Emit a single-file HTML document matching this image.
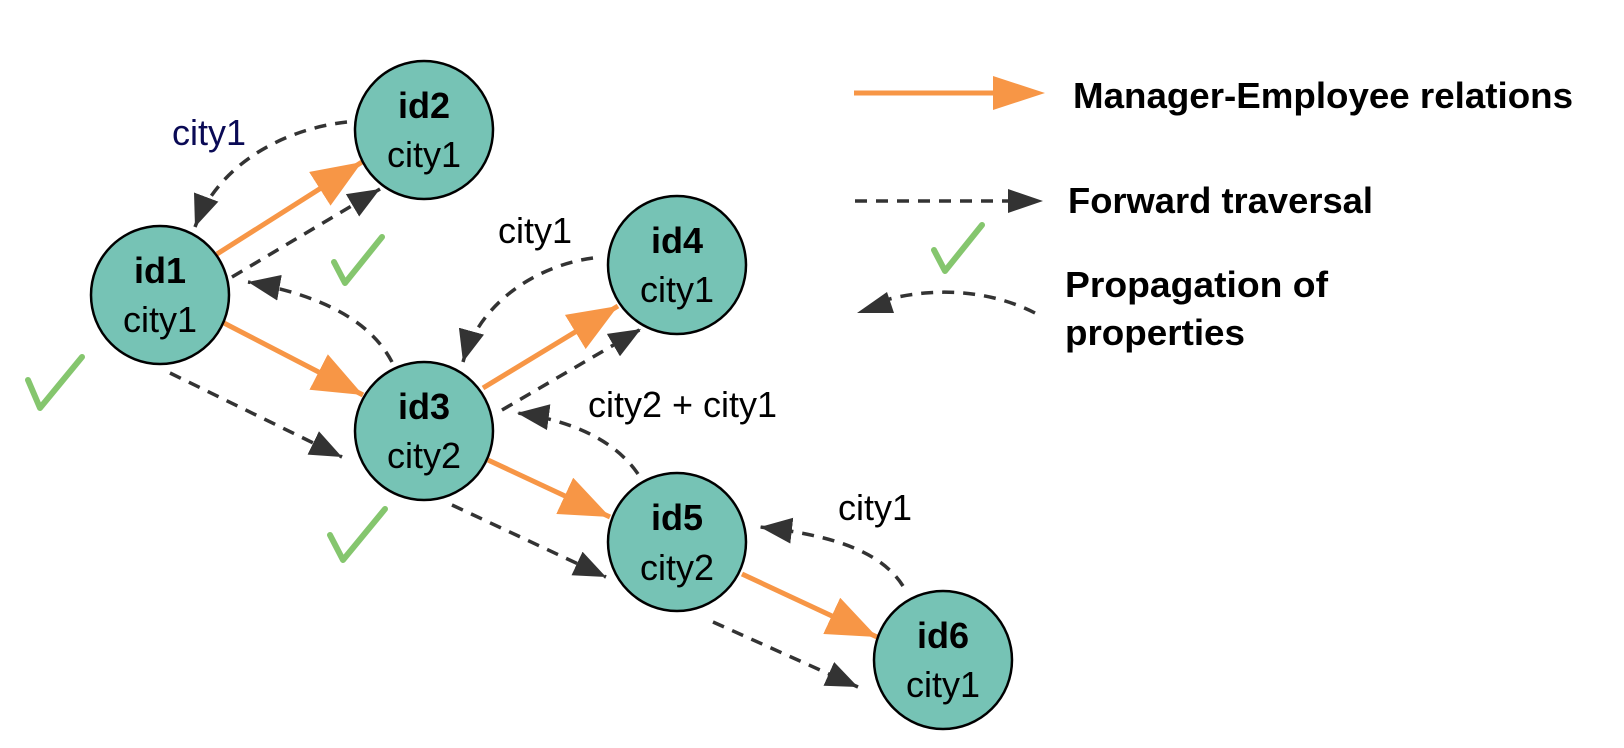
<!DOCTYPE html>
<html><head><meta charset="utf-8"><style>
html,body{margin:0;padding:0;background:#fff;}
svg{display:block;}
.n{fill:#76C3B5;stroke:#000;stroke-width:2.5;}
.idt{font-family:"Liberation Sans",sans-serif;font-weight:bold;font-size:36px;text-anchor:middle;fill:#000;}
.ct{font-family:"Liberation Sans",sans-serif;font-size:36px;text-anchor:middle;fill:#000;}
.lb{font-family:"Liberation Sans",sans-serif;font-size:36px;fill:#000;}
.lg{font-family:"Liberation Sans",sans-serif;font-weight:bold;font-size:36px;fill:#000;}
.o{stroke:#F79646;stroke-width:5;fill:none;marker-end:url(#mo);}
.d{stroke:#333;stroke-width:3.5;stroke-dasharray:12 9;fill:none;marker-end:url(#md);}
.ck{stroke:#85C66E;stroke-width:6;fill:none;stroke-linecap:round;stroke-linejoin:round;}
</style></head><body>
<svg width="1624" height="748" viewBox="0 0 1624 748" xmlns="http://www.w3.org/2000/svg">
<defs>
<marker id="mo" markerUnits="userSpaceOnUse" markerWidth="52" markerHeight="40" refX="50" refY="20" orient="auto"><path d="M0,0 L50,20 L0,40 z" fill="#F79646"/></marker>
<marker id="md" markerUnits="userSpaceOnUse" markerWidth="34" markerHeight="26" refX="32" refY="13" orient="auto"><path d="M0,0 L32,13 L0,26 z" fill="#333"/></marker>
</defs>

<!-- edges -->
<line class="o" x1="217" y1="254" x2="362" y2="162"/>
<line class="d" x1="232" y1="277" x2="380" y2="189"/>
<path class="d" d="M347,122 C290,128 220,160 195,227"/>
<line class="o" x1="222" y1="322" x2="363" y2="395"/>
<line class="d" x1="170" y1="373" x2="342" y2="457"/>
<path class="d" d="M392,362 C370,320 320,295 248,282"/>
<line class="o" x1="483" y1="388" x2="618" y2="306"/>
<line class="d" x1="502" y1="410" x2="641" y2="329"/>
<path class="d" d="M593,258 C540,265 480,300 463,362"/>
<line class="o" x1="488" y1="460" x2="610" y2="517"/>
<line class="d" x1="452" y1="505" x2="606" y2="577"/>
<path class="d" d="M638,474 C615,440 570,420 517,413"/>
<line class="o" x1="742" y1="574" x2="877" y2="637"/>
<line class="d" x1="713" y1="622" x2="858" y2="687"/>
<path class="d" d="M903,586 C880,550 830,535 760,527"/>

<!-- nodes -->
<circle class="n" cx="160" cy="295" r="69"/>
<text class="idt" x="160" y="283">id1</text><text class="ct" x="160" y="332">city1</text>
<circle class="n" cx="424" cy="130" r="69"/>
<text class="idt" x="424" y="118">id2</text><text class="ct" x="424" y="167">city1</text>
<circle class="n" cx="424" cy="431" r="69"/>
<text class="idt" x="424" y="419">id3</text><text class="ct" x="424" y="468">city2</text>
<circle class="n" cx="677" cy="265" r="69"/>
<text class="idt" x="677" y="253">id4</text><text class="ct" x="677" y="302">city1</text>
<circle class="n" cx="677" cy="542" r="69"/>
<text class="idt" x="677" y="530">id5</text><text class="ct" x="677" y="580">city2</text>
<circle class="n" cx="943" cy="660" r="69"/>
<text class="idt" x="943" y="648">id6</text><text class="ct" x="943" y="697">city1</text>

<!-- edge labels -->
<text class="lb" x="172" y="145" fill="#0a0a55" style="fill:#0a0a55">city1</text>
<text class="lb" x="498" y="243">city1</text>
<text class="lb" x="588" y="417">city2 + city1</text>
<text class="lb" x="838" y="520">city1</text>

<!-- checks -->
<path class="ck" d="M334,262 L345,283 L382,237"/>
<path class="ck" d="M28,380 L40,408 L82,357"/>
<path class="ck" d="M330,535 L343,560 L385,509"/>
<path class="ck" d="M934,250 L945,271 L982,225"/>

<!-- legend -->
<line x1="854" y1="93" x2="995" y2="93" stroke="#F79646" stroke-width="5"/>
<path d="M993,76 L1045,93 L993,110 z" fill="#F79646"/>
<text class="lg" x="1073" y="108" textLength="500" lengthAdjust="spacingAndGlyphs">Manager-Employee relations</text>
<line x1="855" y1="201" x2="1008" y2="201" stroke="#333" stroke-width="3.5" stroke-dasharray="12 9"/>
<path d="M1008,189 L1043,201 L1008,213 z" fill="#333"/>
<text class="lg" x="1068" y="213" textLength="305" lengthAdjust="spacingAndGlyphs">Forward traversal</text>
<path d="M1035,313 C1000,295 960,290 925,293 C905,295 890,298 878,303" stroke="#333" stroke-width="3.5" stroke-dasharray="12 9" fill="none"/>
<path d="M857,313 L887,292 L894,313 z" fill="#333"/>
<text class="lg" x="1065" y="297" textLength="263" lengthAdjust="spacingAndGlyphs">Propagation of</text>
<text class="lg" x="1065" y="345" textLength="180" lengthAdjust="spacingAndGlyphs">properties</text>
</svg>
</body></html>
